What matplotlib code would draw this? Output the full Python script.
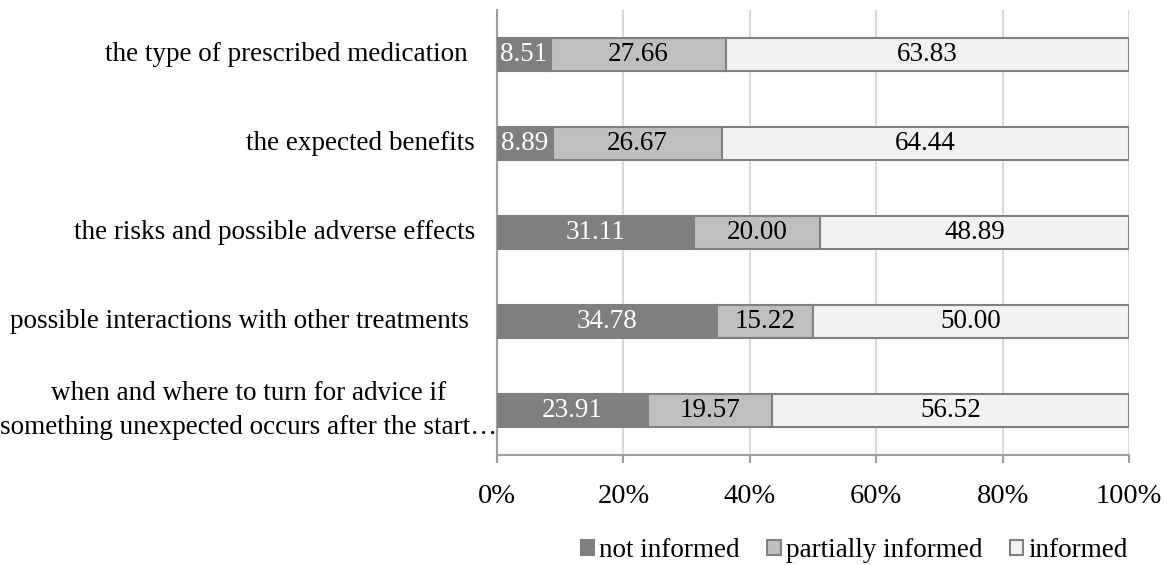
import matplotlib.pyplot as plt
from matplotlib.ticker import PercentFormatter

plt.rcParams['font.family'] = ['Liberation Serif', 'DejaVu Serif']

categories = [
    'the type of prescribed medication',
    'the expected benefits',
    'the risks and possible adverse effects',
    'possible interactions with other treatments',
    'when and where to turn for advice if\nsomething unexpected occurs after the start\u2026',
]
not_informed = [8.51, 8.89, 31.11, 34.78, 23.91]
partially_informed = [27.66, 26.67, 20.00, 15.22, 19.57]
informed = [63.83, 64.44, 48.89, 50.00, 56.52]

series = [
    ('not informed', not_informed, '#7f7f7f', 'white'),
    ('partially informed', partially_informed, '#bfbfbf', 'black'),
    ('informed', informed, '#f2f2f2', 'black'),
]

fig = plt.figure(figsize=(11.7, 5.65), dpi=100)
ax = fig.add_axes([0.4248, 0.1947, 0.965 - 0.4248, 0.9823 - 0.1947])

y = list(range(len(categories)))
left = [0.0] * len(categories)
for name, vals, color, tcolor in series:
    bars = ax.barh(y, vals, left=left, height=0.36, color=color,
                   edgecolor='#808080', linewidth=1.5, label=name, zorder=3)
    ax.bar_label(bars, labels=[f'{v:.2f}' for v in vals], label_type='center',
                 color=tcolor, fontsize=19.5)
    left = [l + v for l, v in zip(left, vals)]

ax.set_xlim(0, 100)
ax.set_ylim(4.5, -0.5)
ax.set_yticks(y)
ax.set_yticklabels(categories, fontsize=19.5, multialignment='center',
                   linespacing=1.45, va='center')
ax.tick_params(axis='y', length=0)
# Excel-style labels do not all sit at the same distance from the axis
for tick, pad in zip(ax.yaxis.get_major_ticks(), [21, 16, 16, 20, 0]):
    tick.set_pad(pad)
ax.set_xticks(range(0, 101, 20))
ax.xaxis.set_major_formatter(PercentFormatter(decimals=0))
ax.tick_params(axis='x', labelsize=20.5, length=6, color='#a0a0a0', pad=15, width=1.5)
ax.grid(axis='x', color='#d9d9d9', linewidth=1.5, zorder=0)

for s in ['top', 'right']:
    ax.spines[s].set_visible(False)
for s in ['left', 'bottom']:
    ax.spines[s].set_color('#a0a0a0')
    ax.spines[s].set_linewidth(1.5)

handles, labels = ax.get_legend_handles_labels()
fig.legend(handles, labels, loc='lower right', bbox_to_anchor=(0.985, -0.04),
           ncol=3, frameon=False, fontsize=19.5, handlelength=0.5,
           handleheight=0.5, handletextpad=0.2, columnspacing=1.0)

fig.savefig('out.png', dpi=100)
